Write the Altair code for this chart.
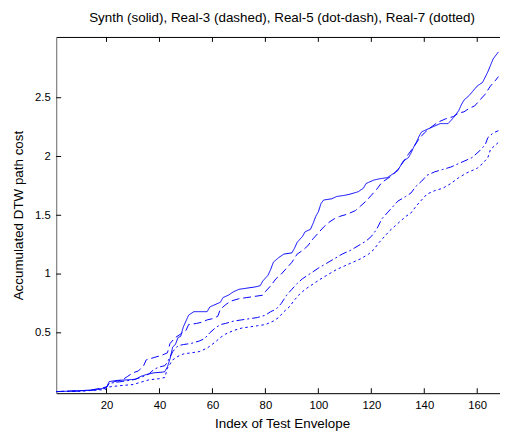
import altair as alt
import pandas as pd

# ---- data ----
solid_x = [1, 5, 10, 14, 17, 19, 20, 21, 24, 28, 31, 33, 35, 38, 41, 42, 43, 44, 45, 46, 47, 48, 49, 50, 51, 53, 58, 59, 61, 63, 64, 66, 68, 70, 73, 76, 78, 79, 81, 82, 83, 85, 87, 90, 91, 92, 94, 95, 97, 98, 99, 100, 101, 102, 105, 107, 110, 112, 115, 117, 118, 119, 121, 123, 126, 128, 130, 132, 134, 135, 136, 137, 138, 139, 141, 143, 146, 149, 151, 153, 154, 155, 157, 160, 162, 164, 166, 168]
solid_y = [0.0, 0.003, 0.008, 0.012, 0.02, 0.03, 0.035, 0.085, 0.095, 0.10, 0.105, 0.13, 0.145, 0.16, 0.165, 0.17, 0.21, 0.28, 0.38, 0.40, 0.46, 0.47, 0.55, 0.60, 0.65, 0.68, 0.68, 0.72, 0.74, 0.76, 0.80, 0.82, 0.85, 0.87, 0.88, 0.89, 0.90, 0.94, 0.99, 1.04, 1.10, 1.14, 1.17, 1.18, 1.22, 1.27, 1.32, 1.36, 1.38, 1.43, 1.49, 1.53, 1.60, 1.63, 1.64, 1.66, 1.67, 1.68, 1.70, 1.73, 1.77, 1.78, 1.80, 1.81, 1.82, 1.85, 1.88, 1.96, 1.99, 2.03, 2.08, 2.12, 2.17, 2.21, 2.23, 2.25, 2.28, 2.28, 2.33, 2.39, 2.44, 2.48, 2.52, 2.60, 2.63, 2.72, 2.83, 2.89]

dashed_x = [1, 8, 14, 18, 20, 21, 23, 26, 28, 30, 32, 34, 35, 38, 41, 42, 43, 44, 46, 48, 50, 51, 54, 56, 58, 60, 62, 63, 65, 67, 70, 73, 76, 79, 80, 82, 84, 86, 88, 90, 92, 94, 96, 98, 100, 102, 104, 106, 108, 111, 114, 116, 118, 120, 122, 124, 126, 128, 130, 132, 134, 136, 138, 140, 142, 145, 148, 151, 153, 155, 157, 159, 161, 163, 165, 167, 168]
dashed_y = [0.0, 0.005, 0.012, 0.03, 0.04, 0.07, 0.085, 0.10, 0.13, 0.16, 0.175, 0.22, 0.27, 0.29, 0.31, 0.32, 0.33, 0.41, 0.46, 0.49, 0.52, 0.57, 0.58, 0.59, 0.61, 0.62, 0.64, 0.70, 0.74, 0.77, 0.79, 0.80, 0.81, 0.82, 0.85, 0.90, 0.96, 1.00, 1.05, 1.10, 1.17, 1.20, 1.24, 1.30, 1.35, 1.40, 1.44, 1.47, 1.49, 1.51, 1.54, 1.58, 1.62, 1.67, 1.72, 1.78, 1.81, 1.84, 1.89, 1.95, 2.02, 2.08, 2.15, 2.20, 2.24, 2.29, 2.32, 2.34, 2.37, 2.38, 2.41, 2.43, 2.48, 2.53, 2.60, 2.65, 2.68]

dotdash_x = [1, 10, 16, 19, 20, 21, 24, 27, 30, 33, 36, 38, 40, 42, 43, 45, 47, 49, 52, 55, 57, 59, 61, 63, 65, 68, 71, 74, 77, 80, 82, 84, 86, 88, 90, 92, 94, 96, 98, 100, 103, 106, 109, 112, 115, 118, 120, 122, 124, 126, 128, 130, 133, 135, 137, 139, 141, 144, 147, 150, 153, 155, 158, 161, 163, 164, 166, 168]
dotdash_y = [0.0, 0.004, 0.015, 0.025, 0.035, 0.07, 0.08, 0.09, 0.10, 0.12, 0.15, 0.19, 0.21, 0.22, 0.25, 0.34, 0.39, 0.40, 0.41, 0.43, 0.45, 0.50, 0.54, 0.57, 0.58, 0.60, 0.61, 0.62, 0.63, 0.65, 0.68, 0.70, 0.75, 0.82, 0.87, 0.92, 0.96, 0.99, 1.02, 1.05, 1.09, 1.13, 1.17, 1.20, 1.24, 1.28, 1.32, 1.38, 1.47, 1.52, 1.57, 1.62, 1.66, 1.69, 1.75, 1.79, 1.84, 1.87, 1.89, 1.91, 1.94, 1.96, 1.99, 2.05, 2.10, 2.16, 2.20, 2.22]

dotted_x = [1, 10, 18, 20, 21, 25, 30, 33, 36, 40, 42, 43, 45, 47, 49, 52, 55, 58, 61, 63, 65, 68, 71, 74, 77, 80, 83, 85, 87, 89, 91, 93, 95, 97, 99, 101, 104, 107, 110, 113, 116, 119, 121, 123, 125, 127, 129, 131, 133, 135, 137, 139, 141, 144, 147, 150, 153, 156, 158, 160, 162, 164, 165, 167, 168]
dotted_y = [0.0, 0.003, 0.015, 0.02, 0.04, 0.05, 0.06, 0.08, 0.10, 0.11, 0.12, 0.20, 0.27, 0.30, 0.32, 0.33, 0.34, 0.37, 0.42, 0.46, 0.49, 0.52, 0.54, 0.55, 0.56, 0.57, 0.60, 0.63, 0.68, 0.72, 0.78, 0.83, 0.87, 0.90, 0.93, 0.96, 1.00, 1.04, 1.07, 1.10, 1.13, 1.17, 1.21, 1.27, 1.32, 1.37, 1.41, 1.45, 1.49, 1.52, 1.58, 1.63, 1.68, 1.71, 1.73, 1.77, 1.82, 1.86, 1.88, 1.90, 1.94, 1.99, 2.06, 2.10, 2.12]

series_names = ["Synth", "Real-3", "Real-5", "Real-7"]
series_dash = [[1, 0], [8, 4], [8, 3, 2, 3], [2.5, 3]]

x_ticks = [20, 40, 60, 80, 100, 120, 140, 160]
y_ticks = [0.5, 1, 1.5, 2, 2.5]

rows = []
for name, xs, ys in zip(series_names,
                        [solid_x, dashed_x, dotdash_x, dotted_x],
                        [solid_y, dashed_y, dotdash_y, dotted_y]):
    for i, (a, b) in enumerate(zip(xs, ys)):
        rows.append({"idx": a, "cost": b, "series": name, "order": i})
df = pd.DataFrame(rows)
xt = pd.DataFrame({"v": x_ticks})
yt = pd.DataFrame({"v": y_ticks})

W, H = 451, 362
FONT = "Liberation Sans"
TICKFS = 11.5
TITLEFS = 13.6
xscale = alt.Scale(domain=[1, 168.6], nice=False, zero=False)
yscale = alt.Scale(domain=[-0.0136, 3.017], nice=False, zero=False)

lines = alt.Chart(df).mark_line(color="#0000ff", strokeWidth=1, clip=True).encode(
    x=alt.X("idx:Q", scale=xscale,
            axis=alt.Axis(orient="bottom", values=x_ticks, ticks=False, grid=False,
                          labelPadding=16, labelBaseline="alphabetic",
                          labelFont=FONT, labelFontSize=TICKFS, labelColor="black",
                          domainColor="black", domainWidth=1,
                          title="Index of Test Envelope", titleFont=FONT,
                          titleFontSize=TITLEFS, titleFontWeight="normal",
                          titleColor="black", titleX=229.5, titleY=35,
                          titleAlign="center", titleBaseline="alphabetic")),
    y=alt.Y("cost:Q", scale=yscale,
            axis=alt.Axis(orient="left", values=y_ticks, format="~g", ticks=False,
                          grid=False, labelPadding=6, labelFont=FONT,
                          labelFontSize=TICKFS, labelColor="black",
                          domainColor="#707070", domainWidth=1,
                          title="Accumulated DTW path cost", titleFont=FONT,
                          titleFontSize=TITLEFS, titleFontWeight="normal",
                          titleColor="black", titleX=-34, titleBaseline="alphabetic")),
    strokeDash=alt.StrokeDash("series:N",
                              scale=alt.Scale(domain=series_names, range=series_dash),
                              legend=None),
    order="order:Q",
)

top_ticks = alt.Chart(xt).mark_rule(color="black", strokeWidth=1).encode(
    x=alt.X("v:Q", scale=xscale,
            axis=alt.Axis(orient="top", labels=False, ticks=False, grid=False,
                          domainColor="black", title=None)),
    y=alt.value(0), y2=alt.value(5),
)
bottom_ticks = alt.Chart(xt).mark_rule(color="black", strokeWidth=1).encode(
    x=alt.X("v:Q", scale=xscale, axis=None),
    y=alt.value(H), y2=alt.value(H - 5),
)
left_ticks = alt.Chart(yt).mark_rule(color="black", strokeWidth=1).encode(
    y=alt.Y("v:Q", scale=yscale, axis=None),
    x=alt.value(0), x2=alt.value(5),
)

chart = alt.layer(lines, top_ticks, bottom_ticks, left_ticks).resolve_axis(
    x="independent", y="independent"
).properties(
    width=W, height=H,
    title=alt.TitleParams("Synth (solid), Real-3 (dashed), Real-5 (dot-dash), Real-7 (dotted)",
                          font=FONT, fontSize=TITLEFS, fontWeight="normal", color="black",
                          anchor="middle", dx=4, dy=4, offset=5, baseline="alphabetic"),
    autosize=alt.AutoSizeParams(type="none"),
    padding={"left": 49, "top": 26, "right": 0, "bottom": 36},
).configure_view(stroke=None).configure(background="white")

chart.save("out.html", embed_options={"renderer": "svg", "actions": False})
